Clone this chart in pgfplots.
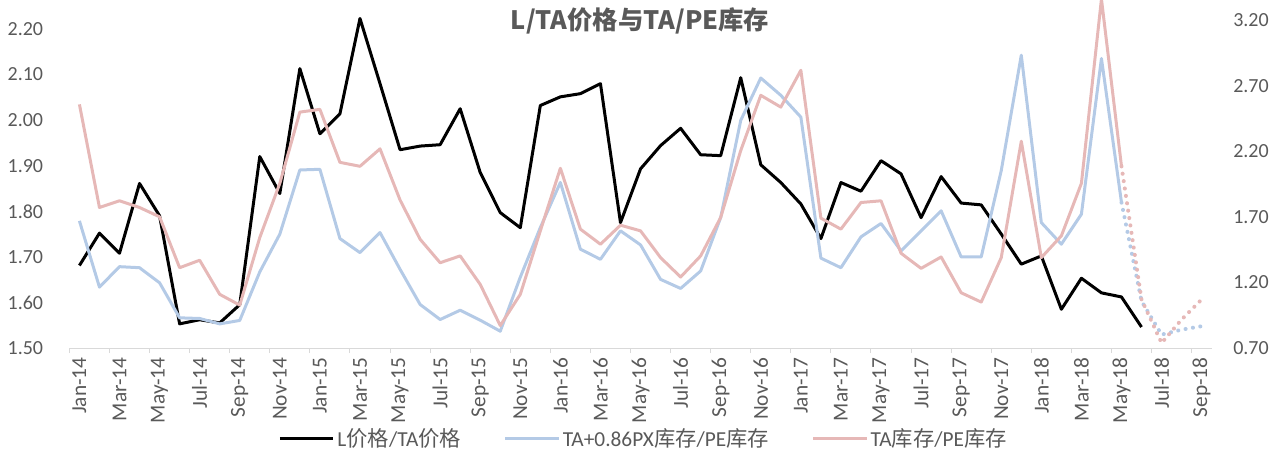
\documentclass[border=0pt]{standalone}
\usepackage{fontspec}
\setmainfont{Carlito}
\newfontfamily\cjk{Noto Sans CJK SC}
\usepackage{pgfplots}
\pgfplotsset{compat=1.18}
\definecolor{txt}{RGB}{89,89,89}
\definecolor{axgray}{RGB}{217,217,217}
\definecolor{lblue}{RGB}{180,202,230}
\definecolor{lpink}{RGB}{230,184,183}

% L price / TA price (left axis)
\pgfplotstableread{
i v
0 1.681
1 1.752
2 1.708
3 1.861
4 1.790
5 1.553
6 1.562
7 1.555
8 1.595
9 1.920
10 1.839
11 2.113
12 1.970
13 2.014
14 2.223
15 2.080
16 1.935
17 1.943
18 1.946
19 2.025
20 1.885
21 1.797
22 1.764
23 2.032
24 2.051
25 2.058
26 2.080
27 1.775
28 1.893
29 1.944
30 1.982
31 1.924
32 1.922
33 2.093
34 1.902
35 1.863
36 1.816
37 1.740
38 1.863
39 1.844
40 1.911
41 1.882
42 1.786
43 1.876
44 1.818
45 1.814
46 1.750
47 1.684
48 1.702
49 1.585
50 1.653
51 1.621
52 1.612
53 1.546
}\ratio

% TA+0.86PX stock / PE stock (right axis)
\pgfplotstableread{
i v
0 1.669
1 1.164
2 1.320
3 1.312
4 1.197
5 0.930
6 0.925
7 0.884
8 0.910
9 1.280
10 1.568
11 2.057
12 2.062
13 1.534
14 1.427
15 1.580
16 1.300
17 1.032
18 0.917
19 0.988
20 0.912
21 0.828
22 1.240
23 1.618
24 1.962
25 1.453
26 1.376
27 1.593
28 1.486
29 1.223
30 1.154
31 1.287
32 1.695
33 2.435
34 2.758
35 2.626
36 2.460
37 1.385
38 1.312
39 1.547
40 1.649
41 1.440
42 1.593
43 1.746
44 1.394
45 1.394
46 2.052
47 2.932
48 1.656
49 1.491
50 1.720
51 2.907
52 1.809
}\blue

\pgfplotstableread{
i v
52 1.809
53 1.057
54 0.802
55 0.840
56 0.866
}\bluefc

% TA stock / PE stock (right axis)
\pgfplotstableread{
i v
0 2.557
1 1.771
2 1.822
3 1.771
4 1.700
5 1.312
6 1.369
7 1.109
8 1.027
9 1.542
10 1.955
11 2.498
12 2.519
13 2.115
14 2.085
15 2.218
16 1.828
17 1.529
18 1.350
19 1.402
20 1.185
21 0.871
22 1.109
23 1.593
24 2.070
25 1.606
26 1.491
27 1.636
28 1.593
29 1.389
30 1.241
31 1.402
32 1.695
33 2.205
34 2.626
35 2.536
36 2.817
37 1.690
38 1.606
39 1.809
40 1.822
41 1.422
42 1.307
43 1.394
44 1.121
45 1.050
46 1.389
47 2.276
48 1.389
49 1.555
50 1.955
51 3.360
52 2.085
}\pink

\pgfplotstableread{
i v
52 2.085
53 1.070
54 0.738
55 0.917
56 1.070
}\pinkfc

\begin{document}
\begin{tikzpicture}
\path[use as bounding box] (-52.05pt,-80.25pt) rectangle (906.45pt,261pt);
\pgfplotsset{
  common/.style={at={(0,0)}, anchor=south west, scale only axis,
    width=856.7pt, height=246pt, xmin=-0.5, xmax=56.5, clip=false,
    /pgf/number format/assume math mode=true,
    y axis line style={draw=none}, ytick style={draw=none},
    yticklabel style={font=\fontsize{15}{15}\selectfont, text=txt, inner sep=0pt,
      /pgf/number format/fixed, /pgf/number format/fixed zerofill,
      /pgf/number format/precision=2}},
}
\begin{axis}[common,
  ymin=1.5, ymax=2.2196,
  axis x line*=bottom, axis y line*=left,
  x axis line style={axgray, line width=0.75pt},
  ytick={1.5,1.6,1.7,1.8,1.9,2.0,2.1,2.2},
  yticklabel style={anchor=east, xshift=-19.5pt},
  xtick={0,2,...,56},
  xticklabels={Jan-14,Mar-14,May-14,Jul-14,Sep-14,Nov-14,
    Jan-15,Mar-15,May-15,Jul-15,Sep-15,Nov-15,
    Jan-16,Mar-16,May-16,Jul-16,Sep-16,Nov-16,
    Jan-17,Mar-17,May-17,Jul-17,Sep-17,Nov-17,
    Jan-18,Mar-18,May-18,Jul-18,Sep-18},
  minor xtick={-0.5,1.5,...,55.5},
  tick align=outside, major tick length=0pt, minor tick length=3.75pt,
  minor x tick style={axgray, line width=0.75pt},
  xticklabel style={yshift=-7pt, rotate=90, anchor=east, inner sep=0pt,
    font=\fontsize{16}{16}\selectfont, text=txt},
]
\addplot[black, line width=2.25pt, line join=round] table[x=i,y=v] {\ratio};
\end{axis}
\begin{axis}[common,
  ymin=0.7, ymax=3.2,
  axis x line=none, axis y line*=right,
  ytick={0.7,1.2,1.7,2.2,2.7,3.2},
  yticklabel style={anchor=west, xshift=16pt},
  legend columns=3,
  legend style={at={(0.503,-0.277)}, anchor=center, draw=none, fill=none,
    font=\fontsize{16}{16}\selectfont, text=txt,
    /tikz/every even column/.append style={column sep=30pt}},
  legend image code/.code={\draw[#1] (0pt,0pt) -- (40pt,0pt);},
]
\addlegendimage{black, line width=2.25pt}
\addlegendentry{L{\cjk 价格}/TA{\cjk 价格}}
\addplot[lblue, line width=2.25pt, line join=round] table[x=i,y=v] {\blue};
\addlegendentry{TA+0.86PX{\cjk 库存}/PE{\cjk 库存}}
\addplot[lpink, line width=2.25pt, line join=round] table[x=i,y=v] {\pink};
\addlegendentry{TA{\cjk 库存}/PE{\cjk 库存}}
\addplot[lblue, line width=3pt, line cap=round, dash pattern=on 0.1pt off 5.5pt, forget plot] table[x=i,y=v] {\bluefc};
\addplot[lpink, line width=3pt, line cap=round, dash pattern=on 0.1pt off 5.5pt, forget plot] table[x=i,y=v] {\pinkfc};
\end{axis}
\node[font=\cjk\bfseries\fontsize{19}{19}\selectfont, text=txt] at (427.95pt,245pt) {L/TA价格与TA/PE库存};
\end{tikzpicture}
\end{document}
